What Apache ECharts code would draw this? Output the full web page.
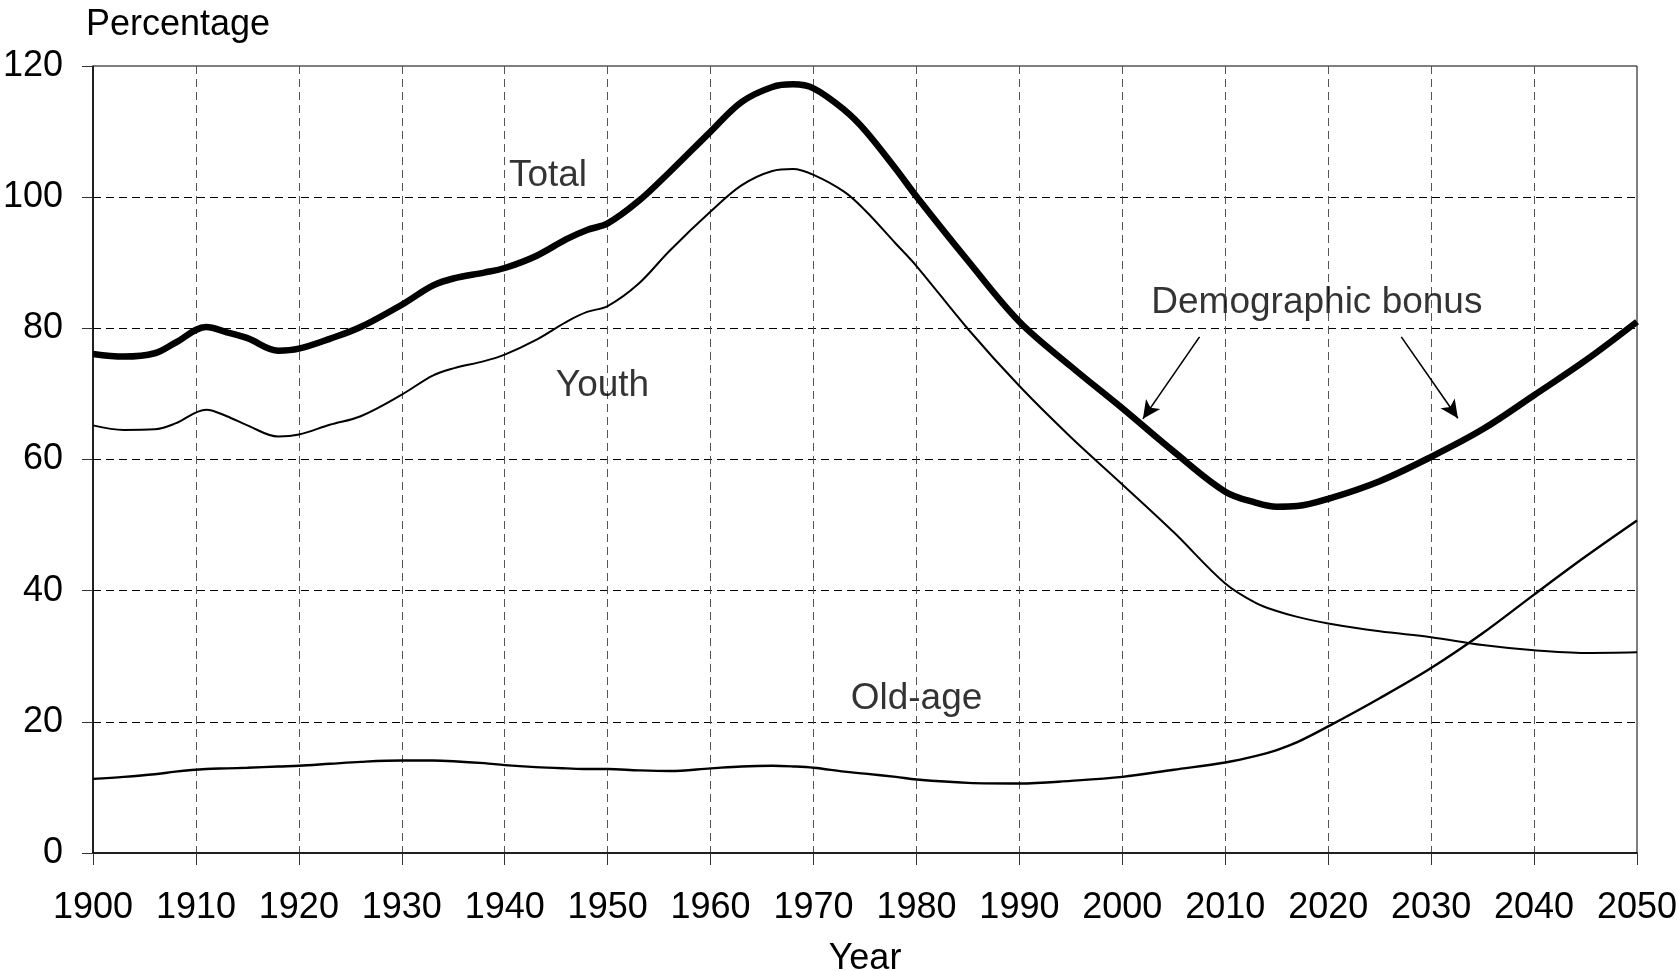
<!DOCTYPE html>
<html>
<head>
<meta charset="utf-8">
<script src="https://cdn.jsdelivr.net/npm/echarts@6/dist/echarts.min.js"></script>
<style>
html,body{margin:0;padding:0;background:#fff;}
#chart{width:1678px;height:971px;}
</style>
</head>
<body>
<div id="chart"></div>
<script>
const years = [1900,1903,1906,1908,1911,1913,1915,1918,1920,1923,1926,1930,1933,1935,1938,1940,1943,1946,1948,1950,1953,1956,1960,1963,1966,1968,1970,1973,1975,1978,1980,1985,1990,1995,2000,2005,2010,2013,2015,2017,2020,2025,2030,2035,2040,2045,2050];
const totalValues = [76.1,75.7,76.2,77.8,80.2,79.4,78.5,76.6,76.9,78.4,80.2,83.6,86.5,87.6,88.5,89.2,91.0,93.6,95.0,96.0,99.4,103.8,110.0,114.5,116.8,117.2,116.6,113.3,110.2,104.3,100.1,90.3,81.0,74.2,67.8,61.2,55.1,53.4,52.8,52.9,54.0,56.7,60.4,64.6,69.8,75.1,81.0];
const youthValues = [65.2,64.5,64.6,65.5,67.6,66.6,65.2,63.5,63.8,65.3,66.6,69.9,72.8,73.9,75.0,76.0,78.2,81.0,82.5,83.4,86.8,91.8,97.8,101.8,104.0,104.3,103.4,100.8,98.0,92.9,89.5,79.9,71.2,63.4,56.2,48.9,41.1,38.1,36.9,36.0,35.0,33.8,32.9,31.7,30.9,30.5,30.6];
const oldAgeValues = [11.3,11.6,12.0,12.4,12.8,12.9,13.0,13.2,13.3,13.6,13.9,14.1,14.1,14.0,13.7,13.4,13.1,12.9,12.8,12.8,12.6,12.5,12.9,13.2,13.3,13.2,13.0,12.4,12.1,11.6,11.2,10.7,10.6,11.0,11.6,12.7,13.8,14.8,15.7,16.9,19.3,23.6,28.2,33.5,39.4,45.2,50.7];

// annotation texts with their anchor in data coordinates
const labelNames = ['Total','Youth','Old-age','Demographic bonus'];
const labelYears = [1944.2,1949.5,1980.0,2018.9];
const labelValues = [103.2,71.3,23.5,83.9];
// arrows: [startYear, startValue, endYear, endValue]
const arrows = [[2007.5,78.7,2002.0,66.2],[2027.1,78.7,2032.6,66.3]];

const FONT = "'Liberation Sans', Arial, Helvetica, sans-serif";
const pair = (vals) => years.map((y,i)=>[y, vals[i]]);

const chart = echarts.init(document.getElementById('chart'), null, {renderer:'canvas'});
chart.setOption({
  animation:false,
  backgroundColor:'#fff',
  textStyle:{fontFamily:FONT},
  title:{text:'Percentage', left:81, top:2, textStyle:{fontFamily:FONT, fontSize:36, fontWeight:'normal', color:'#000'}},
  grid:{left:93, right:41, top:66, bottom:118, outerBoundsMode:'none', containLabel:false, show:true, borderColor:'#000', borderWidth:1, backgroundColor:'transparent'},
  xAxis:{
    type:'value', min:1900, max:2050, interval:10,
    name:'Year', nameLocation:'middle', nameGap:88,
    nameTextStyle:{fontFamily:FONT, fontSize:36, color:'#000'},
    axisLine:{show:true, lineStyle:{color:'#000', width:1.5}},
    axisTick:{show:true, length:12, lineStyle:{color:'#333', width:1}},
    axisLabel:{fontFamily:FONT, fontSize:36, color:'#000', margin:37, formatter:(v)=>String(v)},
    splitLine:{show:true, showMinLine:false, showMaxLine:false, lineStyle:{color:'#555', width:1, type:[8,5]}}
  },
  yAxis:{
    type:'value', min:0, max:120, interval:20,
    axisLine:{show:true, lineStyle:{color:'#000', width:1.5}},
    axisTick:{show:true, length:11, lineStyle:{color:'#333', width:1}},
    axisLabel:{fontFamily:FONT, fontSize:36, color:'#000', margin:30},
    splitLine:{show:true, showMinLine:false, showMaxLine:false, lineStyle:{color:'#000', width:1, type:[8,5]}}
  },
  series:[
    {name:'Old-age', type:'line', data:pair(oldAgeValues), smooth:0.35, showSymbol:false, lineStyle:{color:'#000', width:2.4}, z:3},
    {name:'Youth', type:'line', data:pair(youthValues), smooth:0.35, showSymbol:false, lineStyle:{color:'#000', width:2}, z:3},
    {name:'Total', type:'line', data:pair(totalValues), smooth:0.35, showSymbol:false, lineStyle:{color:'#000', width:6.5}, z:4,
      markLine:{
        silent:true, symbol:['none','arrow'], symbolSize:[13,18],
        label:{show:false},
        lineStyle:{color:'#000', width:1.6, type:'solid'},
        data:arrows.map(a=>[{coord:[a[0],a[1]]},{coord:[a[2],a[3]]}])
      }
    },
    {name:'labels', type:'scatter', symbolSize:0, silent:true, z:5,
      data:labelNames.map((n,i)=>({value:[labelYears[i], labelValues[i]], name:n})),
      label:{show:true, position:'inside', formatter:(p)=>p.name, fontFamily:FONT, fontSize:37, color:'#000', align:'center', verticalAlign:'middle'}
    }
  ]
});
</script>
</body>
</html>
